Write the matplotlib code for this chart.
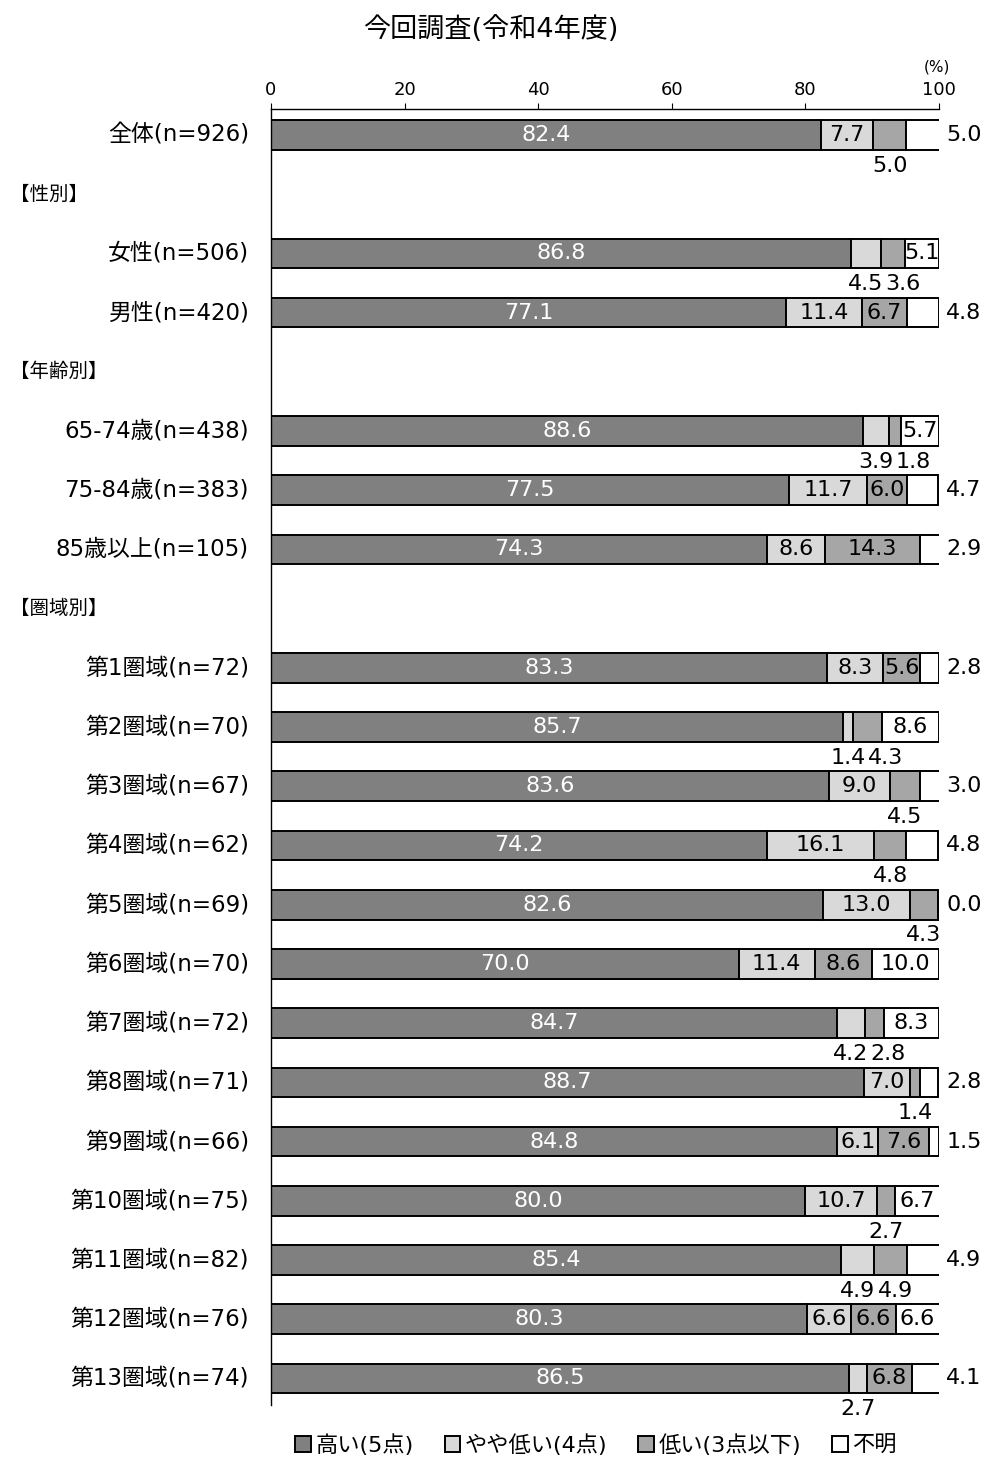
import matplotlib.pyplot as plt
from matplotlib.transforms import blended_transform_factory

# 数字・英字は DejaVu Sans、漢字かなは Noto Sans CJK JP
plt.rcParams['font.family'] = ['DejaVu Sans', 'Noto Sans CJK JP']

# 行ラベル
labels = ['全体(n=926)', '【性別】', '女性(n=506)', '男性(n=420)',
          '【年齢別】', '65-74歳(n=438)', '75-84歳(n=383)', '85歳以上(n=105)',
          '【圏域別】', '第1圏域(n=72)', '第2圏域(n=70)', '第3圏域(n=67)',
          '第4圏域(n=62)', '第5圏域(n=69)', '第6圏域(n=70)', '第7圏域(n=72)',
          '第8圏域(n=71)', '第9圏域(n=66)', '第10圏域(n=75)', '第11圏域(n=82)',
          '第12圏域(n=76)', '第13圏域(n=74)']
is_header = [False, True, False, False, True, False, False, False, True] + [False] * 13

high = [82.4, None, 86.8, 77.1, None, 88.6, 77.5, 74.3, None, 83.3, 85.7, 83.6,
        74.2, 82.6, 70.0, 84.7, 88.7, 84.8, 80.0, 85.4, 80.3, 86.5]
slightly_low = [7.7, None, 4.5, 11.4, None, 3.9, 11.7, 8.6, None, 8.3, 1.4, 9.0,
                16.1, 13.0, 11.4, 4.2, 7.0, 6.1, 10.7, 4.9, 6.6, 2.7]
low = [5.0, None, 3.6, 6.7, None, 1.8, 6.0, 14.3, None, 5.6, 4.3, 4.5,
       4.8, 4.3, 8.6, 2.8, 1.4, 7.6, 2.7, 4.9, 6.6, 6.8]
unknown = [5.0, None, 5.1, 4.8, None, 5.7, 4.7, 2.9, None, 2.8, 8.6, 3.0,
           4.8, 0.0, 10.0, 8.3, 2.8, 1.5, 6.7, 4.9, 6.6, 4.1]

series_names = ['高い(5点)', 'やや低い(4点)', '低い(3点以下)', '不明']
colors = ['#808080', '#d9d9d9', '#a6a6a6', '#ffffff']

fig = plt.figure(figsize=(9.85, 14.57), dpi=100)
ax = fig.add_axes([0.2751, 0.0357, 0.6782, 0.8895])

n = len(labels)
ypos = list(range(n))
FS = 16

handles = []
for y in ypos:
    if is_header[y]:
        continue
    vals = [high[y], slightly_low[y], low[y], unknown[y]]
    left = 0
    below = []
    for k, v in enumerate(vals):
        b = ax.barh(y, v, left=left, height=0.5, color=colors[k],
                    edgecolor='black', linewidth=1.4)
        if y == 0:
            handles.append(b)
        cx = left + v / 2
        txt = f'{v:.1f}'
        if k == 0:
            ax.text(cx, y, txt, ha='center', va='center', fontsize=FS, color='white')
        elif k in (1, 2):
            if v >= 5.5:
                ax.text(cx, y, txt, ha='center', va='center', fontsize=FS)
            else:
                below.append((cx, txt))
        else:
            if v >= 5.05:
                ax.text(cx, y, txt, ha='center', va='center', fontsize=FS)
            else:
                ax.text(101.1, y, txt, ha='left', va='center', fontsize=FS)
        left += v
    # 小さい値は棒の下に、重ならないよう右へずらす
    prev = None
    for cx, txt in below:
        if prev is not None:
            cx = max(cx, prev + 5.6)
        ax.text(cx, y + 0.52, txt, ha='center', va='center', fontsize=FS)
        prev = cx

tr = blended_transform_factory(fig.transFigure, ax.transData)
for y, lab in enumerate(labels):
    if is_header[y]:
        ax.text(0.0102, y, lab, transform=tr, ha='left', va='center', fontsize=14)
    else:
        ax.text(0.2528, y, lab, transform=tr, ha='right', va='center', fontsize=16.5)

ax.set_xlim(0, 100)
ax.set_ylim(n - 0.55, -0.44)
ax.xaxis.tick_top()
ax.set_xticks(range(0, 101, 20))
ax.tick_params(axis='x', direction='out', length=4, labelsize=13, pad=3.5)
ax.set_yticks([])
ax.spines['right'].set_visible(False)
ax.spines['bottom'].set_visible(False)
for s in ('top', 'left'):
    ax.spines[s].set_linewidth(1.0)

fig.text(0.4985, 1 - 30 / 1457, '今回調査(令和4年度)', ha='center', va='center', fontsize=19.5)
fig.text(0.951, 1 - 67 / 1457, '(%)', ha='center', va='center', fontsize=11)

fig.legend(handles, series_names, loc='center', bbox_to_anchor=(0.605, 12 / 1457),
           ncol=4, frameon=False, fontsize=16, handlelength=0.7, handleheight=0.7,
           handletextpad=0.2, columnspacing=1.4)

fig.savefig('out.png', dpi=100)
